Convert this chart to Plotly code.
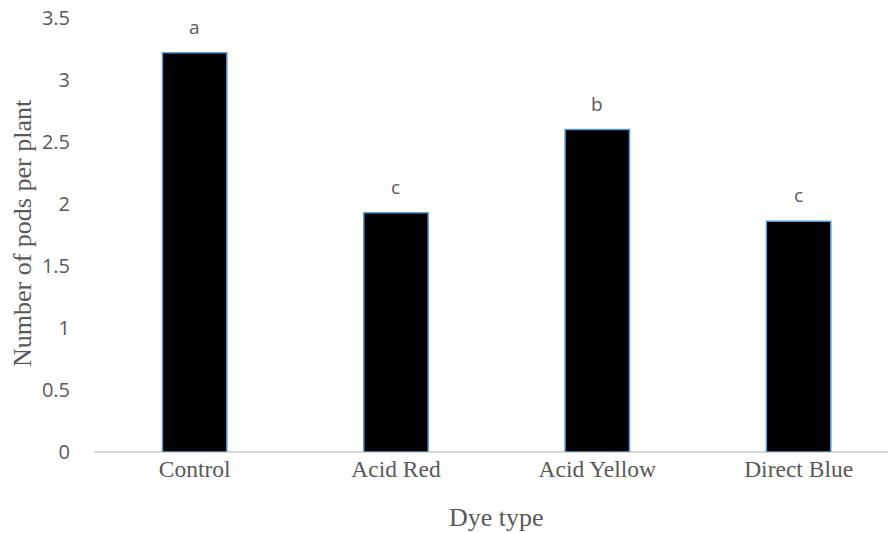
import plotly.graph_objects as go

categories = ["Control", "Acid Red", "Acid Yellow", "Direct Blue"]
pods = [3.22, 1.93, 2.60, 1.86]
letters = ["a", "c", "b", "c"]
y_ticks = [0, 0.5, 1, 1.5, 2, 2.5, 3, 3.5]
y_tick_labels = ["0", "0.5", "1", "1.5", "2", "2.5", "3", "3.5"]

GRAY = "#595959"
SERIF = "Liberation Serif, Times New Roman, serif"
SANS = "Open Sans, Liberation Sans, sans-serif"

fig = go.Figure()
fig.add_trace(go.Bar(
    x=categories, y=pods,
    width=0.32,
    marker=dict(color="black", line=dict(color="#5B9BD5", width=1.5)),
    showlegend=False,
))

for c, v, l in zip(categories, pods, letters):
    fig.add_annotation(x=c, y=v, text=l, showarrow=False, yanchor="bottom",
                       yshift=11, font=dict(family=SANS, size=19, color=GRAY))

fig.add_annotation(xref="paper", yref="paper", x=0, y=0.5, xshift=-72, yshift=2,
                   xanchor="center", yanchor="middle",
                   text="Number of pods per plant", textangle=-90, showarrow=False,
                   font=dict(family=SERIF, size=26, color=GRAY))
fig.add_annotation(x=1.5, xref="x", yref="paper", y=0, yshift=-65,
                   text="Dye type", showarrow=False, yanchor="middle",
                   font=dict(family=SERIF, size=26, color=GRAY))

fig.update_layout(
    width=888, height=533,
    margin=dict(l=94, r=0, t=18, b=81),
    plot_bgcolor="white", paper_bgcolor="white",
    xaxis=dict(range=[-0.5, 3.444], showgrid=False, showline=False, zeroline=False,
               ticks="", tickfont=dict(family=SERIF, size=23.5, color=GRAY)),
    yaxis=dict(range=[0, 3.5], tickvals=y_ticks, ticktext=y_tick_labels,
               showgrid=False, showline=False, zeroline=True, zerolinecolor="#D9D9D9",
               zerolinewidth=2, ticks="", ticklabelstandoff=23,
               tickfont=dict(family=SANS, size=20, color=GRAY)),
)

fig.write_html("out.html", config={"displayModeBar": False},
               post_script="document.body.style.margin='0';document.body.style.overflow='hidden';")
